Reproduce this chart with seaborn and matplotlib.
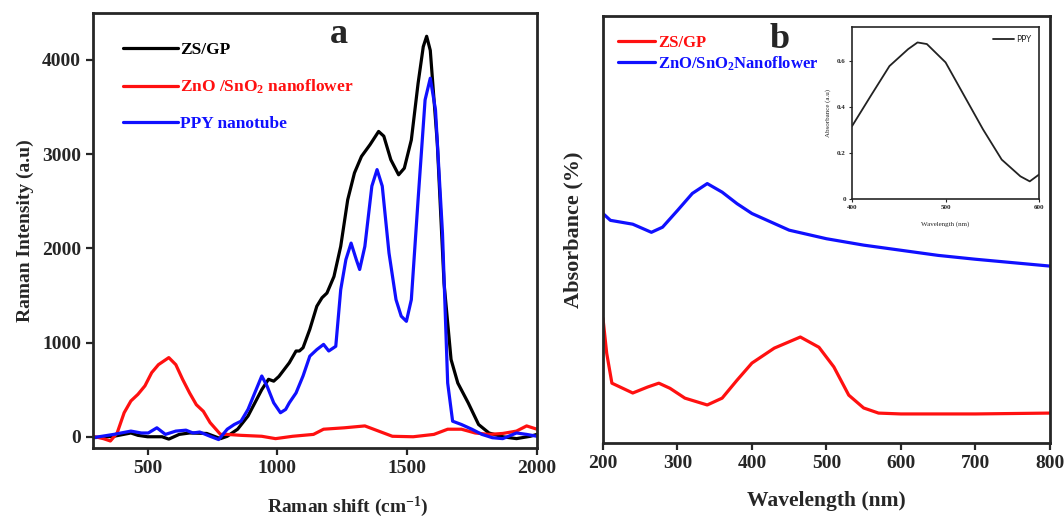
import numpy as np
import pandas as pd
import matplotlib
matplotlib.use("Agg")
import matplotlib.pyplot as plt
import seaborn as sns

# ---- panel a: Raman spectra ----
zsgp_x = [290, 370, 436, 463, 500, 556, 582, 622, 662, 728, 781, 807, 847, 887, 940, 966, 986,
          1006, 1046, 1072, 1085, 1099, 1125, 1152, 1172, 1191, 1218, 1244, 1271, 1297, 1324,
          1357, 1390, 1410, 1437, 1467, 1489, 1516, 1542, 1562, 1575, 1589, 1616, 1642, 1669,
          1695, 1735, 1775, 1815, 1868, 1921, 1974, 2000]
zsgp_y = [-10, 5, 40, 15, 0, 0, -25, 25, 40, 35, -20, 5, 80, 220, 500, 610, 590,
          640, 785, 910, 910, 945, 1140, 1385, 1475, 1525, 1700, 2020, 2515, 2800, 2975,
          3100, 3240, 3190, 2940, 2780, 2850, 3150, 3750, 4140, 4250, 4100, 3115, 1630, 820,
          570, 360, 130, 40, 0, -20, 5, 25]

zno_x = [290, 330, 357, 383, 410, 436, 463, 490, 516, 542, 582, 609, 635, 662, 688, 715, 741,
         781, 807, 860, 940, 993, 1059, 1139, 1178, 1258, 1337, 1390, 1443, 1523, 1603, 1656,
         1709, 1762, 1815, 1868, 1921, 1960, 2000]
zno_y = [5, -20, -45, 40, 255, 380, 450, 540, 680, 765, 840, 765, 610, 465, 340, 270, 150,
         25, 25, 15, 5, -20, 5, 25, 80, 95, 115, 60, 5, 0, 25, 80,
         80, 40, 25, 35, 60, 115, 80]

ppy_x = [290, 370, 436, 476, 503, 536, 569, 609, 648, 675, 701, 741, 774, 807, 834, 860, 887,
         913, 940, 960, 986, 1012, 1032, 1046, 1072, 1099, 1125, 1152, 1178, 1198, 1225, 1244,
         1264, 1284, 1304, 1317, 1337, 1364, 1384, 1404, 1430, 1457, 1477, 1497, 1516, 1542,
         1569, 1589, 1609, 1636, 1656, 1675, 1709, 1749, 1788, 1828, 1868, 1921, 1960, 2000]
ppy_y = [-10, 25, 60, 40, 40, 95, 25, 60, 70, 40, 50, 5, -30, 80, 130, 165, 290,
         465, 645, 540, 360, 255, 290, 360, 465, 645, 855, 925, 980, 910, 960, 1560,
         1880, 2055, 1880, 1775, 2020, 2660, 2835, 2660, 1950, 1455, 1280, 1225, 1455, 2515,
         3575, 3805, 3470, 2160, 570, 165, 130, 80, 25, -10, -20, 40, 25, 5]

# ---- panel b: UV-vis absorbance ----
zsgp_b_x = [200, 205, 212, 240, 260, 275, 290, 310, 340, 360, 380, 400, 430, 465, 490, 510,
            530, 550, 570, 600, 700, 800]
zsgp_b_y = [0.292, 0.210, 0.140, 0.117, 0.131, 0.140, 0.128, 0.105, 0.089, 0.105, 0.147, 0.187,
            0.222, 0.248, 0.224, 0.178, 0.112, 0.082, 0.070, 0.068, 0.068, 0.070]

zno_b_x = [200, 210, 240, 265, 280, 300, 320, 340, 360, 380, 400, 450, 500, 550, 600, 650,
           700, 750, 800]
zno_b_y = [0.537, 0.521, 0.512, 0.493, 0.505, 0.544, 0.584, 0.607, 0.587, 0.560, 0.537, 0.498,
           0.478, 0.463, 0.451, 0.439, 0.430, 0.422, 0.414]

# inset: PPY
ppy_b_x = [400, 420, 440, 460, 470, 480, 500, 520, 540, 560, 580, 590, 600]
ppy_b_y = [0.318, 0.45, 0.58, 0.654, 0.683, 0.676, 0.596, 0.45, 0.304, 0.172, 0.099, 0.077, 0.107]

sns.set_theme(style="ticks")
plt.rcParams['font.family'] = ['Liberation Serif', 'DejaVu Serif']
plt.rcParams['font.weight'] = 'bold'
plt.rcParams['mathtext.fontset'] = 'custom'
plt.rcParams['mathtext.rm'] = 'Liberation Serif:bold'
plt.rcParams['mathtext.it'] = 'Liberation Serif:bold'
plt.rcParams['mathtext.bf'] = 'Liberation Serif:bold'

fig = plt.figure(figsize=(10.64, 5.21), dpi=100)
ax_a = fig.add_axes([0.0874, 0.140, 0.4173, 0.8356])
ax_b = fig.add_axes([0.5667, 0.1497, 0.4200, 0.8203])
ax_in = fig.add_axes([0.8008, 0.618, 0.1758, 0.330])

lw = 2.3
sns.lineplot(x=zsgp_x, y=zsgp_y, ax=ax_a, color='black', lw=lw, label='ZS/GP', estimator=None)
sns.lineplot(x=zno_x, y=zno_y, ax=ax_a, color='#ff1010', lw=lw,
             label='ZnO /SnO$_2$ nanoflower', estimator=None)
sns.lineplot(x=ppy_x, y=ppy_y, ax=ax_a, color='#1010ff', lw=lw, label='PPY nanotube', estimator=None)
ax_a.set_xlim(290, 2000)
ax_a.set_ylim(-120, 4500)
ax_a.set_xticks([500, 1000, 1500, 2000])
ax_a.set_yticks([0, 1000, 2000, 3000, 4000])
ax_a.set_xlabel('Raman shift (cm$^{-1}$)', fontsize=14, fontweight='bold')
ax_a.xaxis.set_label_coords(0.574, -0.108)
ax_a.set_ylabel('Raman Intensity (a.u)', fontsize=14, fontweight='bold', labelpad=6)
ax_a.text(0.553, 0.95, 'a', transform=ax_a.transAxes, fontsize=26, fontweight='bold',
          ha='center', va='center')
leg = ax_a.legend(loc='upper left', bbox_to_anchor=(0.032, 0.968), frameon=False,
                  handlelength=3.2, handletextpad=0.12, labelspacing=1.12,
                  prop={'weight': 'bold', 'size': 12.5})
for txt, c in zip(leg.get_texts(), ['black', '#ff1010', '#1010ff']):
    txt.set_color(c)

sns.lineplot(x=zsgp_b_x, y=zsgp_b_y, ax=ax_b, color='#ff1010', lw=lw, label='ZS/GP', estimator=None)
sns.lineplot(x=zno_b_x, y=zno_b_y, ax=ax_b, color='#1010ff', lw=lw,
             label='ZnO/SnO$_2$Nanoflower', estimator=None)
ax_b.set_xlim(200, 800)
ax_b.set_ylim(0, 1)
ax_b.set_xticks(range(200, 801, 100))
ax_b.set_yticks([])
ax_b.set_xlabel('Wavelength (nm)', fontsize=15.5, fontweight='bold', labelpad=14)
ax_b.set_ylabel('Absorbance (%)', fontsize=16, fontweight='bold', labelpad=14)
ax_b.text(0.395, 0.945, 'b', transform=ax_b.transAxes, fontsize=26, fontweight='bold',
          ha='center', va='center')
leg_b = ax_b.legend(loc='upper left', bbox_to_anchor=(0.0, 0.99), frameon=False,
                    handlelength=2.2, handletextpad=0.2, labelspacing=0.2,
                    prop={'weight': 'bold', 'size': 12})
for txt, c in zip(leg_b.get_texts(), ['#ff1010', '#1010ff']):
    txt.set_color(c)

for ax in (ax_a, ax_b):
    for s in ax.spines.values():
        s.set_linewidth(2)
        s.set_visible(True)
    ax.tick_params(axis='both', direction='out', width=1.6, length=5, labelsize=14)
    for lab in ax.get_xticklabels() + ax.get_yticklabels():
        lab.set_fontweight('bold')

sns.lineplot(x=ppy_b_x, y=ppy_b_y, ax=ax_in, color='#222222', lw=1.3, label='PPY', estimator=None)
ax_in.set_xlim(400, 600)
ax_in.set_ylim(0, 0.75)
ax_in.set_xticks([400, 500, 600])
ax_in.set_yticks([0, 0.2, 0.4, 0.6])
ax_in.set_yticklabels(['0', '0.2', '0.4', '0.6'])
ax_in.tick_params(direction='out', width=0.8, length=2.5, labelsize=5, pad=2)
ax_in.set_xlabel('Wavelength (nm)', fontsize=5, labelpad=8)
ax_in.set_ylabel('Absorbance (a.u)', fontsize=5, labelpad=4)
for s in ax_in.spines.values():
    s.set_linewidth(1.2)
    s.set_visible(True)
ax_in.legend(loc='upper right', frameon=False, handlelength=2.5, handletextpad=0.3,
             prop={'family': 'DejaVu Sans', 'size': 6, 'weight': 'normal'})

fig.savefig('out.png', dpi=100)
